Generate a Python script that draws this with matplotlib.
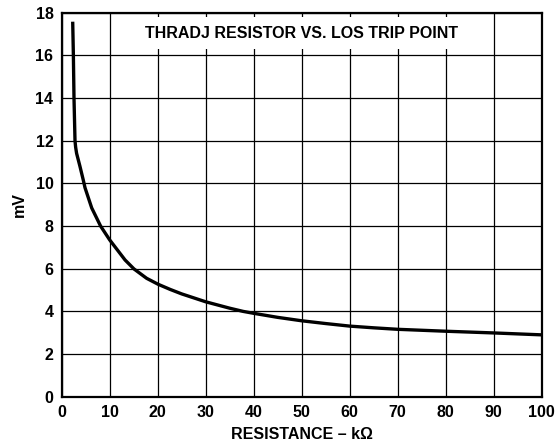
import matplotlib
matplotlib.use("Agg")
import matplotlib.pyplot as plt
from matplotlib.patches import Rectangle

plt.rcParams["font.family"] = ["Liberation Sans", "DejaVu Sans"]
plt.rcParams["font.weight"] = "bold"

# THRADJ resistance (kOhm) vs LOS trip point (mV)
resistance = [2.29, 2.43, 2.56, 2.77, 2.9, 3.1, 3.8, 4.5, 4.85, 6.25, 8.1, 10.0,
              13.2, 15.06, 17.7, 20.1, 22.6, 25, 30, 35, 37.8, 40, 45, 50, 55,
              60, 65, 70, 80, 90, 100]
trip_mv = [17.58, 16.0, 14.0, 12.0, 11.7, 11.41, 10.8, 10.15, 9.8, 8.85, 8.0, 7.35,
           6.41, 5.99, 5.55, 5.27, 5.03, 4.82, 4.45, 4.15, 4.0, 3.91, 3.72, 3.56, 3.43,
           3.31, 3.23, 3.16, 3.07, 2.99, 2.9]

x_ticks = list(range(0, 101, 10))
y_ticks = list(range(0, 19, 2))

fig = plt.figure(figsize=(5.56, 4.47), dpi=100, facecolor="white")
ax = fig.add_axes([0.111, 0.1125, 0.863, 0.859])

ax.plot(resistance, trip_mv, color="black", linewidth=2.4, zorder=3,
        solid_capstyle="butt", solid_joinstyle="round")

ax.set_xlim(0, 100)
ax.set_ylim(0, 18)
ax.set_xticks(x_ticks)
ax.set_yticks(y_ticks)
ax.tick_params(length=0, labelsize=11.5, pad=6)
for lab in ax.get_xticklabels() + ax.get_yticklabels():
    lab.set_fontweight("bold")

ax.set_axisbelow(True)
ax.grid(True, color="black", linewidth=0.9)
for spine in ax.spines.values():
    spine.set_linewidth(1.6)

# white panel behind the title, interrupting the grid
ax.add_patch(Rectangle((12, 16.28), 76, 1.52, facecolor="white",
                       edgecolor="none", zorder=1))
ax.text(50, 17.05, "THRADJ RESISTOR VS. LOS TRIP POINT", ha="center", va="center",
        fontsize=11.5, fontweight="bold", zorder=2)

ax.set_xlabel("RESISTANCE – kΩ", fontsize=11.5, fontweight="bold", labelpad=5)
ax.set_ylabel("mV", fontsize=11.5, fontweight="bold", labelpad=6)

fig.savefig("out.png", dpi=100)
